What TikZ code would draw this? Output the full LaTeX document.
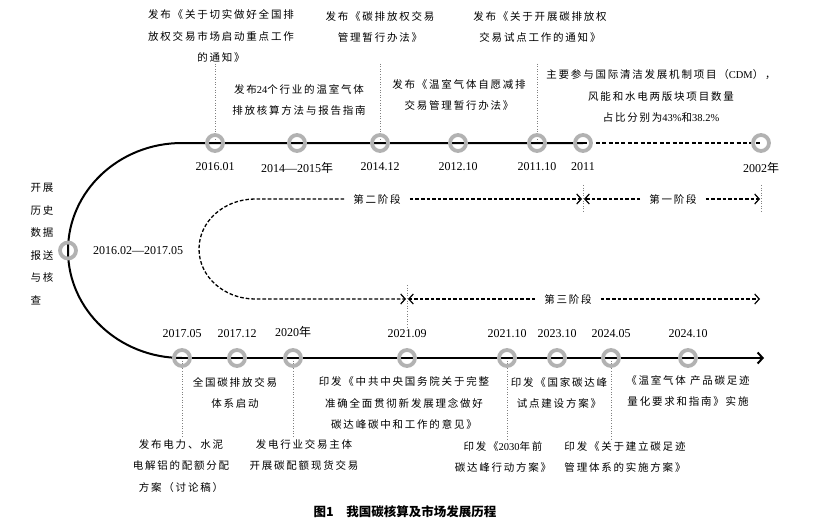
\documentclass[tikz,border=0pt]{standalone}
\usepackage{fontspec}
\setmainfont{Liberation Serif}
\newfontfamily\cjk[LetterSpace=17]{Noto Sans CJK SC}
\newfontfamily\cjkhei{Noto Sans CJK SC}
\usetikzlibrary{arrows.meta, positioning, calc, backgrounds}
\colorlet{RingGray}{black!30}
\colorlet{LeadGray}{black!50}
\newcommand{\ltn}[1]{{\normalfont #1}}

\begin{document}
\begin{tikzpicture}[
    x=1pt, y=1pt,
    ring/.style={
        circle, minimum size=16pt, inner sep=0pt,
        draw=RingGray, line width=3.8pt
    },
    axis/.style={line width=2pt, black},
    phase/.style={line width=1.3pt, dash pattern=on 3.6pt off 2pt},
    lead/.style={LeadGray, line width=0.6pt, dotted},
    tip/.style={-{Straight Barb[length=4.5pt, width=10pt, line width=1.2pt]},
        shorten >=1pt},
    date/.style={font=\fontsize{12}{13}\selectfont, inner sep=1pt},
    event/.style={
        font=\cjk\fontsize{10.5}{21.5}\selectfont,
        align=center, inner sep=1pt
    },
    stagebox/.style={font=\cjk\fontsize{10.5}{12}\selectfont, inner sep=9pt}
]
\useasboundingbox (0,0) rectangle (816,-522);

% ===================================================================
% RINGS ON THE UPPER LINE
% ===================================================================
\node[ring] (r2016a) at (215,-143) {};
\node[date, below=8pt of r2016a] (l2016a) {2016.01};
\node[ring] (r2014a) at (297,-143) {};
\node[date, below=8pt of r2014a] (l2014a) {2014—2015{\cjk 年}};
\node[ring] (r2014b) at (380,-143) {};
\node[date, below=8pt of r2014b] (l2014b) {2014.12};
\node[ring] (r2012) at (458,-143) {};
\node[date, below=8pt of r2012] (l2012) {2012.10};
\node[ring] (r2011b) at (537,-143) {};
\node[date, below=8pt of r2011b] (l2011b) {2011.10};
\node[ring] (r2011a) at (583,-143) {};
\node[date, below=8pt of r2011a] (l2011a) {2011};
\node[ring] (r2002) at (761,-143) {};
\node[date, below=8pt of r2002] (l2002) {2002{\cjk 年}};

% left turn
\node[ring] (rleft) at (68,-250.5) {};
\node[date, right=14pt of rleft] (lleft) {2016.02—2017.05};
\node[event, align=left, font=\cjk\fontsize{10.5}{22.6}\selectfont]
    (hist) at (42,-244) {开展\\历史\\数据\\报送\\与核\\查};

% ===================================================================
% RINGS ON THE LOWER LINE
% ===================================================================
\node[ring] (r2017a) at (182,-358) {};
\node[date, above=9pt of r2017a] (l2017a) {2017.05};
\node[ring] (r2017b) at (237,-358) {};
\node[date, above=9pt of r2017b] (l2017b) {2017.12};
\node[ring] (r2020) at (293,-358) {};
\node[date, above=9pt of r2020] (l2020) {2020{\cjk 年}};
\node[ring] (r2021a) at (407,-358) {};
\node[date, above=9pt of r2021a] (l2021a) {2021.09};
\node[ring] (r2021b) at (507,-358) {};
\node[date, above=9pt of r2021b] (l2021b) {2021.10};
\node[ring] (r2023) at (557,-358) {};
\node[date, above=9pt of r2023] (l2023) {2023.10};
\node[ring] (r2024a) at (611,-358) {};
\node[date, above=9pt of r2024a] (l2024a) {2024.05};
\node[ring] (r2024b) at (688,-358) {};
\node[date, above=9pt of r2024b] (l2024b) {2024.10};
\coordinate (axisend) at (764,-358);

% ===================================================================
% EVENTS
% ===================================================================
\node[event] (t2016) at (221,-36)
    {发布《关于切实做好全国排\\放权交易市场启动重点工作\\的通知》};
\node[event] (t2014b) at (380,-27) {发布《碳排放权交易\\管理暂行办法》};
\node[event] (t2011b) at (540,-27)
    {发布《关于开展碳排放权\\交易试点工作的通知》};
\node[event] (t2014a) at (299,-100)
    {发布\ltn{24}个行业的温室气体\\排放核算方法与报告指南};
\node[event] (t2012) at (459,-95)
    {发布《温室气体自愿减排\\交易管理暂行办法》};
\node[event] (t2011a) at (661,-96)
    {主要参与国际清洁发展机制项目（\ltn{CDM}），\\风能和水电两版块项目数量\\占比分别为\ltn{43\%}和\ltn{38.2\%}};

\node[event] (a2017b) at (235,-393) {全国碳排放交易\\体系启动};
\node[event] (a2021a) at (404,-403)
    {印发《中共中央国务院关于完整\\准确全面贯彻新发展理念做好\\碳达峰碳中和工作的意见》};
\node[event] (a2023) at (559,-393) {印发《国家碳达峰\\试点建设方案》};
\node[event] (a2024b) at (688,-391)
    {《温室气体 产品碳足迹\\量化要求和指南》实施};

\node[event] (b2017a) at (181,-466)
    {发布电力、水泥\\电解铝的配额分配\\方案（讨论稿）};
\node[event] (b2020) at (304,-455) {发电行业交易主体\\开展碳配额现货交易};
\node[event] (b2021b) at (503,-457) {印发《\ltn{2030}年前\\碳达峰行动方案》};
\node[event] (b2024a) at (625,-457)
    {印发《关于建立碳足迹\\管理体系的实施方案》};

% ===================================================================
% STAGES
% ===================================================================
\node[stagebox] (s2) at (377,-199) {第二阶段};
\node[stagebox] (s1) at (673,-199) {第一阶段};
\node[stagebox] (s3) at (568,-299) {第三阶段};

\node[font=\cjkhei\bfseries\fontsize{12.5}{14}\selectfont] (cap) at (405,-512)
    {图1\quad 我国碳核算及市场发展历程};

% ===================================================================
% LINES (behind the rings)
% ===================================================================
\begin{scope}[on background layer]
% leaders
\draw[lead] (r2016a |- t2016.south) -- (r2016a.center);
\draw[lead] (r2014b |- t2016.south) -- (r2014b.center);
\draw[lead] (r2011b |- t2016.south) -- (r2011b.center);
\draw[lead] (r2017a.center) -- (r2017a |- b2017a.north);
\draw[lead] (r2020.center) -- (r2020 |- b2020.north);
\draw[lead] (r2021b.center) -- (r2021b |- b2021b.north);
\draw[lead] (r2024a.center) -- (r2024a |- b2024a.north);

% stage borders
\draw[lead] (r2011a |- s1.north) -- (r2011a |- s1.south);
\draw[lead] (r2002 |- s1.north) -- (r2002 |- s1.south);
\draw[lead] (r2021a |- s3.north) -- (l2021a.north);

% main timeline
\draw[axis] (r2011a.center) -- (r2016a.center) -- ++(-33,0)
    arc[start angle=90, end angle=270, x radius=114, y radius=107.5]
    -- (r2017a.center);
\draw[axis, -{Straight Barb[length=5pt, width=11pt, line width=2pt]}]
    (r2017a.center) -- (axisend);
\draw[axis, line width=1.7pt, dash pattern=on 4pt off 2.4pt]
    (r2011a.center) -- (r2002.center);

% stage arrows
\draw[phase, tip] (s2.east) -- (r2011a |- s2.east);
\draw[phase, tip] (s2.west) -- (255,-199)
    arc[start angle=90, end angle=270, x radius=56, y radius=50]
    -- (r2021a |- s3.west);
\draw[phase, tip] (s1.west) -- (r2011a |- s1.west);
\draw[phase, tip] (s1.east) -- (r2002 |- s1.east);
\draw[phase, tip] (s3.west) -- (r2021a |- s3.west);
\draw[phase, tip] (s3.east) -- (r2002 |- s3.east);
\end{scope}

\end{tikzpicture}
\end{document}
